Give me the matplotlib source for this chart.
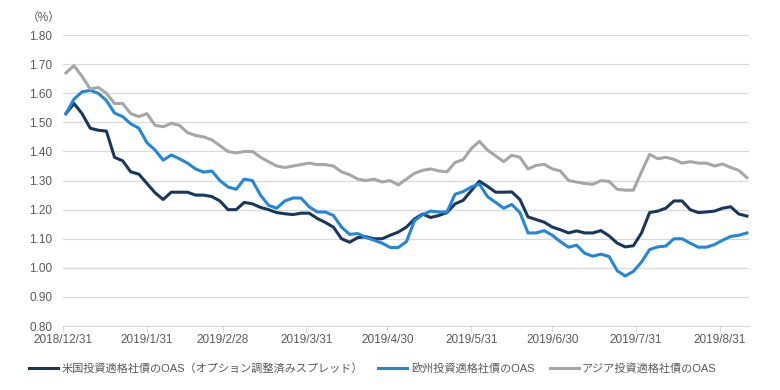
import matplotlib
matplotlib.use("Agg")
import matplotlib.pyplot as plt
import matplotlib.dates as mdates
import pandas as pd

plt.rcParams['font.family'] = ['Liberation Sans', 'Noto Sans CJK JP', 'DejaVu Sans']

# every 3 days from 2019/1/1
dates = pd.date_range('2019-01-01', periods=85, freq='3D')

us = [1.53, 1.565, 1.53, 1.48, 1.473, 1.47, 1.38, 1.368, 1.33, 1.322,
      1.29, 1.258, 1.235, 1.26, 1.26, 1.26, 1.25, 1.25, 1.245, 1.23,
      1.20, 1.20, 1.225, 1.22, 1.208, 1.20, 1.19, 1.186, 1.183, 1.188,
      1.188, 1.17, 1.156, 1.14, 1.10, 1.088, 1.104, 1.107, 1.10, 1.10,
      1.112, 1.123, 1.14, 1.168, 1.185, 1.173, 1.18, 1.19, 1.22, 1.232,
      1.265, 1.298, 1.28, 1.26, 1.26, 1.261, 1.235, 1.175, 1.166, 1.157,
      1.14, 1.131, 1.12, 1.127, 1.12, 1.12, 1.128, 1.11, 1.085, 1.072,
      1.076, 1.12, 1.19, 1.195, 1.205, 1.23, 1.23, 1.20, 1.19, 1.192,
      1.195, 1.205, 1.21, 1.185, 1.178]

eu = [1.53, 1.58, 1.605, 1.61, 1.60, 1.575, 1.532, 1.52, 1.495, 1.48,
      1.43, 1.405, 1.37, 1.388, 1.375, 1.36, 1.34, 1.329, 1.333, 1.30,
      1.278, 1.27, 1.305, 1.30, 1.25, 1.215, 1.205, 1.23, 1.24, 1.24,
      1.21, 1.192, 1.192, 1.18, 1.14, 1.115, 1.118, 1.105, 1.095, 1.085,
      1.07, 1.07, 1.09, 1.162, 1.183, 1.195, 1.192, 1.192, 1.253, 1.262,
      1.278, 1.288, 1.245, 1.225, 1.205, 1.218, 1.19, 1.12, 1.12, 1.128,
      1.112, 1.09, 1.071, 1.078, 1.05, 1.04, 1.047, 1.039, 0.99, 0.972,
      0.988, 1.02, 1.063, 1.072, 1.075, 1.10, 1.10, 1.085, 1.071, 1.071,
      1.08, 1.095, 1.108, 1.112, 1.12]

asia = [1.67, 1.695, 1.658, 1.615, 1.62, 1.60, 1.565, 1.565, 1.53, 1.52,
        1.53, 1.49, 1.485, 1.497, 1.49, 1.465, 1.455, 1.45, 1.44, 1.42,
        1.40, 1.395, 1.40, 1.40, 1.38, 1.365, 1.35, 1.345, 1.35, 1.355,
        1.36, 1.355, 1.355, 1.35, 1.33, 1.32, 1.305, 1.30, 1.305, 1.295,
        1.30, 1.285, 1.305, 1.325, 1.335, 1.34, 1.333, 1.33, 1.362, 1.372,
        1.41, 1.435, 1.405, 1.385, 1.365, 1.387, 1.38, 1.34, 1.352, 1.356,
        1.34, 1.333, 1.30, 1.295, 1.29, 1.287, 1.30, 1.297, 1.27, 1.267,
        1.267, 1.33, 1.39, 1.375, 1.38, 1.373, 1.36, 1.365, 1.36, 1.36,
        1.35, 1.357, 1.345, 1.335, 1.31]

labels = ['米国投資適格社債のOAS（オプション調整済みスプレッド）',
          '欧州投資適格社債のOAS',
          'アジア投資適格社債のOAS']
colors = ['#17375e', '#2385dc', '#a6a6a6']

tick_dates = ['2018-12-31', '2019-01-31', '2019-02-28', '2019-03-31', '2019-04-30',
              '2019-05-31', '2019-06-30', '2019-07-31', '2019-08-31']
yticks = [0.8, 0.9, 1.0, 1.1, 1.2, 1.3, 1.4, 1.5, 1.6, 1.7, 1.8]

txt = '#595959'

fig = plt.figure(figsize=(7.8, 3.9), dpi=100)
ax = fig.add_axes([0.081, 0.164, 0.879, 0.746])

for vals, lab, c in zip([us, eu, asia], labels, colors):
    ax.plot(dates, vals, color=c, lw=2.2, label=lab)

ax.set_ylim(0.8, 1.8)
ax.set_yticks(yticks)
ax.set_yticklabels([f'{v:.2f}' for v in yticks])
ax.grid(axis='y', color='#d9d9d9', lw=0.9)
ax.set_axisbelow(True)

td = pd.to_datetime(tick_dates)
ax.set_xticks(td)
ax.set_xticklabels([f'{d.year}/{d.month}/{d.day}' for d in td])
ax.set_xlim(mdates.date2num(pd.Timestamp('2018-12-31')),
            mdates.date2num(pd.Timestamp('2019-09-10')) + 0.7)

for s in ['left', 'right', 'top']:
    ax.spines[s].set_visible(False)
ax.spines['bottom'].set_color('#d9d9d9')
ax.tick_params(axis='y', length=0, labelsize=8.5, labelcolor=txt, pad=8)
ax.tick_params(axis='x', length=4, color='#d9d9d9', labelsize=8.5, labelcolor=txt, pad=2)

fig.text(0.034, 0.955, '（%）', fontsize=8.5, color=txt, va='center')

fig.legend(loc='center', bbox_to_anchor=(0.478, 0.056), ncol=3, frameon=False,
           fontsize=8, handlelength=2.6, columnspacing=1.4, handletextpad=0.3,
           labelcolor=txt)

fig.savefig('out.png', dpi=100)
